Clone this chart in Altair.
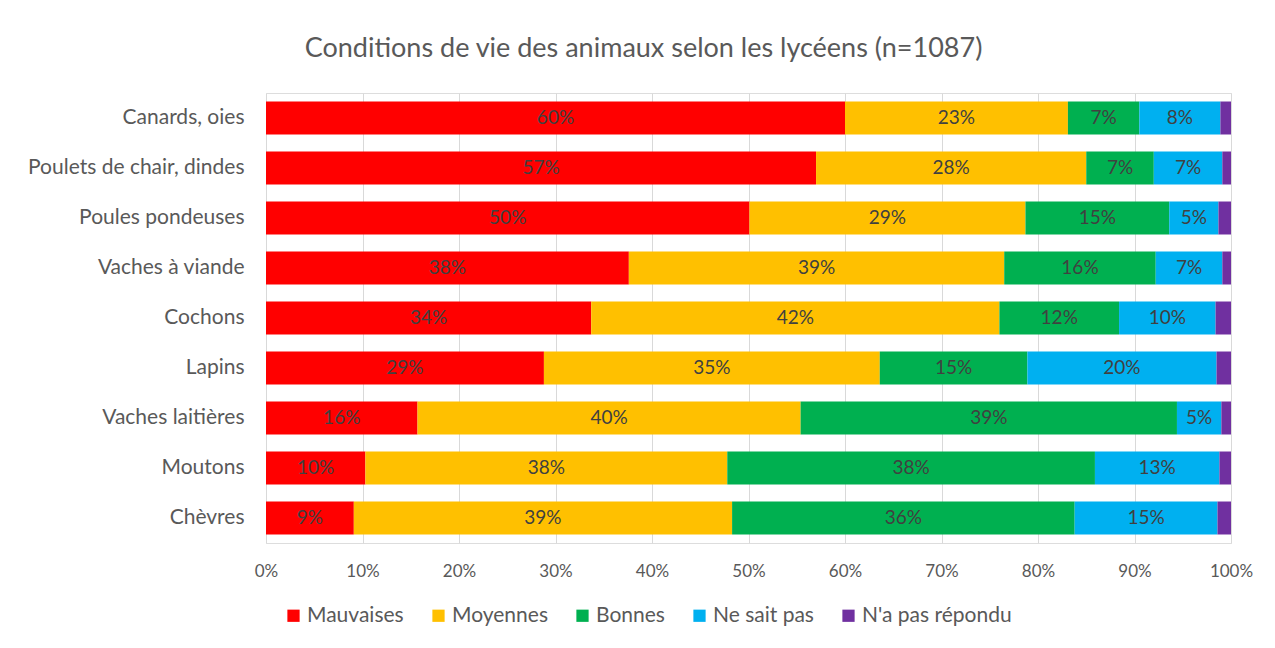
import altair as alt
import pandas as pd

animals = ["Canards, oies", "Poulets de chair, dindes", "Poules pondeuses",
           "Vaches à viande", "Cochons", "Lapins", "Vaches laitières",
           "Moutons", "Chèvres"]
categories = ["Mauvaises", "Moyennes", "Bonnes", "Ne sait pas", "N'a pas répondu"]
colors = ["#FF0000", "#FFC000", "#00B050", "#00B0F0", "#7030A0"]

mauvaises = [60.0, 57.0, 50.1, 37.6, 33.7, 28.8, 15.7, 10.3, 9.1]
moyennes = [23.1, 28.0, 28.6, 38.9, 42.3, 34.8, 39.7, 37.5, 39.2]
bonnes = [7.4, 7.0, 14.9, 15.7, 12.4, 15.3, 39.0, 38.1, 35.5]
ne_sait_pas = [8.4, 7.1, 5.1, 6.9, 10.0, 19.6, 4.6, 12.9, 14.8]
na_pas_repondu = [1.1, 0.9, 1.3, 0.9, 1.6, 1.5, 1.0, 1.2, 1.4]

series = [mauvaises, moyennes, bonnes, ne_sait_pas, na_pas_repondu]
rows = []
for ci, (cat, vals) in enumerate(zip(categories, series)):
    for a, v in zip(animals, vals):
        rows.append({"animal": a, "cat": cat, "order": ci, "value": v})
df = pd.DataFrame(rows)

FONT = "Lato"
GREY = "#595959"

base = alt.Chart(df).transform_stack(
    stack="value", groupby=["animal"], sort=[{"field": "order"}], as_=["x0", "x1"]
).transform_calculate(mid="(datum.x0 + datum.x1) / 2")

y_enc = alt.Y("animal:N", sort=animals, title=None,
              scale=alt.Scale(paddingInner=0.34, paddingOuter=0.17),
              axis=alt.Axis(labelFontSize=21, labelColor=GREY, labelFont=FONT,
                            ticks=False, domain=False, labelPadding=22,
                            labelLimit=400))

bars = base.mark_bar().encode(
    x=alt.X("x0:Q", scale=alt.Scale(domain=[0, 100], nice=False),
            title=None,
            axis=alt.Axis(values=list(range(0, 101, 10)), labelExpr="datum.value + '%'",
                          labelFontSize=17, labelColor=GREY, labelFont=FONT,
                          ticks=False, domain=False, grid=True, gridColor="#D9D9D9",
                          labelPadding=20, labelFlush=False, labelBound=False,
                          labelOverlap=False)),
    x2="x1:Q",
    y=y_enc,
    color=alt.Color("cat:N", sort=categories,
                    scale=alt.Scale(domain=categories, range=colors),
                    legend=alt.Legend(title=None, orient="none", direction="horizontal",
                                      legendX=17, legendY=512,
                                      symbolType="square", symbolSize=150,
                                      symbolStrokeWidth=0,
                                      labelFontSize=21, labelColor=GREY, labelFont=FONT,
                                      columnPadding=24, labelOffset=3)),
    order=alt.Order("order:Q"),
)

text = base.transform_filter("datum.cat != \"N'a pas répondu\"").mark_text(
    fontSize=19, color="#404040", font=FONT
).encode(
    x="mid:Q",
    y=alt.Y("animal:N", sort=animals),
    text=alt.Text("label:N"),
).transform_calculate(label="round(datum.value) + '%'")

chart = alt.layer(bars, text).properties(
    width=965, height=450,
    autosize=alt.AutoSizeParams(type="none"),
    padding={"left": 266, "top": 93, "right": 44, "bottom": 105},
    title=alt.TitleParams("Conditions de vie des animaux selon les lycéens (n=1087)",
                          fontSize=27, color=GREY, font=FONT, fontWeight="normal",
                          anchor="middle", dx=-105, offset=30),
).configure_view(stroke=None).configure(background="white")

chart.save("out.html", embed_options={"renderer": "svg", "actions": False})
